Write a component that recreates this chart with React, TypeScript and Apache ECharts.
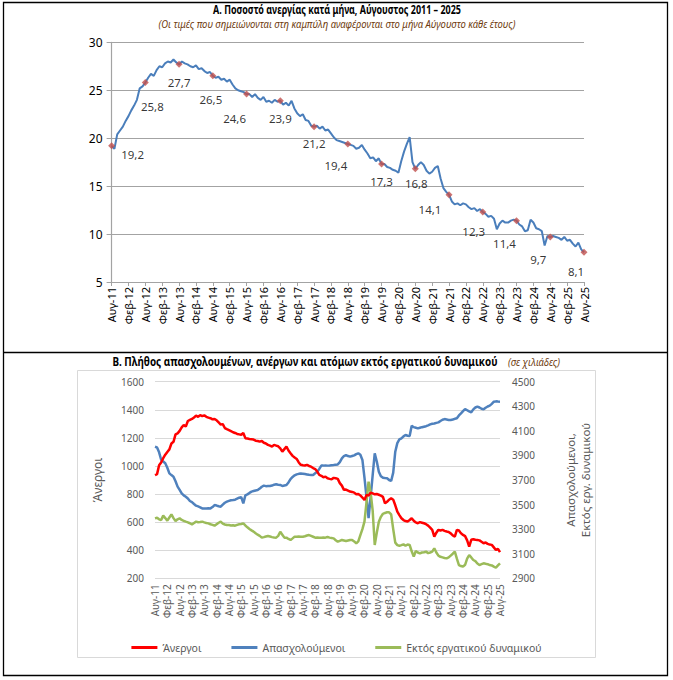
import React, { useEffect, useRef } from "react";
import * as echarts from "echarts";

// ---------- Data ----------
const MONTHS = ["Ιαν", "Φεβ", "Μαρ", "Απρ", "Μαϊ", "Ιουν", "Ιουλ", "Αυγ", "Σεπ", "Οκτ", "Νοε", "Δεκ"];
const START_MONTH = 7; // Αύγουστος (0-based)
const START_YEAR = 11; // 2011

// Α. Ποσοστό ανεργίας (%), Αύγ. 2011 – Αύγ. 2025
const unemploymentRate = [
  19.2, 18.9, 20.4, 20.8, 21.2, 21.8, 22.3, 22.9, 23.4, 24.0, 25.2, 25.4,
  25.8, 26.3, 26.7, 26.5, 27.1, 27.5, 27.4, 27.8, 28.0, 27.9, 28.2, 27.9,
  27.7, 28.0, 27.8, 27.7, 27.5, 27.4, 27.6, 27.2, 27.3, 27.0, 26.8, 26.9,
  26.5, 26.3, 26.4, 26.1, 26.2, 25.9, 26.1, 25.6, 25.2, 25.0, 24.9, 24.8,
  24.6, 24.6, 24.3, 24.6, 24.2, 24.0, 24.3, 23.8, 23.9, 23.7, 24.0, 23.8,
  23.9, 23.5, 23.7, 23.4, 23.9, 23.1, 22.6, 22.3, 22.5, 21.9, 21.8, 21.3,
  21.2, 21.3, 21.0, 21.2, 20.8, 20.9, 20.5, 20.1, 19.8, 19.7, 19.6, 19.5,
  19.4, 19.3, 19.2, 18.9, 19.0, 19.3, 18.8, 18.4, 17.9, 18.0, 17.6, 17.9,
  17.3, 17.3, 17.0, 16.9, 16.7, 16.6, 16.4, 17.6, 18.6, 19.4, 20.1, 17.5,
  16.8, 17.2, 17.5, 17.2, 16.6, 16.3, 16.5, 16.9, 17.1, 15.8, 14.8, 14.4,
  14.1, 13.4, 13.1, 13.2, 13.0, 13.2, 13.1, 12.8, 12.6, 12.7, 12.4, 12.6,
  12.3, 12.1, 11.8, 11.9, 11.6, 10.5, 11.1, 11.4, 11.2, 11.2, 11.4, 11.5,
  11.4, 11.0, 10.8, 10.3, 10.4, 11.5, 11.2, 10.6, 10.5, 10.3, 8.8, 9.8,
  9.7, 9.8, 9.7, 9.6, 9.4, 9.7, 9.3, 9.4, 9.0, 8.7, 9.1, 8.4,
  8.1,
];

// Β. Άνεργοι (χιλιάδες)
const unemployed = [
  935, 942, 1005, 1025, 1055, 1080, 1100, 1118, 1160, 1172, 1225, 1232,
  1250, 1275, 1292, 1280, 1320, 1328, 1335, 1345, 1358, 1350, 1362, 1355,
  1360, 1350, 1344, 1340, 1332, 1335, 1325, 1310, 1295, 1298, 1270, 1262,
  1255, 1248, 1240, 1235, 1228, 1225, 1222, 1235, 1198, 1195, 1192, 1190,
  1188, 1180, 1178, 1173, 1178, 1165, 1160, 1150, 1145, 1138, 1150, 1145,
  1140, 1125, 1102, 1120, 1138, 1110, 1090, 1072, 1060, 1050, 1025, 1008,
  1005, 1003, 1008, 1000, 995, 985, 978, 960, 936, 930, 920, 924,
  912, 908, 905, 915, 912, 908, 878, 860, 830, 832, 825, 818,
  815, 810, 798, 800, 790, 775, 758, 794, 790, 810, 805, 798,
  800, 795, 789, 780, 734, 745, 760, 770, 760, 720, 675, 650,
  628, 615, 608, 604, 615, 628, 610, 598, 592, 600, 596, 592,
  585, 575, 561, 545, 497, 525, 545, 540, 545, 538, 533, 530,
  520, 505, 497, 545, 540, 520, 509, 500, 470, 426, 474, 478,
  474, 472, 470, 460, 450, 455, 445, 440, 438, 420, 402, 410,
  386,
];

// Β. Απασχολούμενοι (χιλιάδες)
const employed = [
  3971, 3965, 3925, 3865, 3850, 3836, 3800, 3754, 3740, 3727, 3690, 3646,
  3620, 3591, 3575, 3564, 3550, 3529, 3520, 3505, 3491, 3485, 3478, 3469,
  3469, 3468, 3470, 3469, 3480, 3496, 3492, 3486, 3483, 3500, 3515, 3524,
  3530, 3535, 3537, 3540, 3548, 3556, 3560, 3510, 3575, 3583, 3595, 3605,
  3610, 3615, 3618, 3630, 3645, 3654, 3650, 3651, 3651, 3655, 3662, 3665,
  3662, 3660, 3651, 3655, 3659, 3680, 3708, 3725, 3738, 3746, 3750, 3752,
  3751, 3748, 3745, 3742, 3741, 3741, 3755, 3768, 3790, 3817, 3817, 3818,
  3817, 3818, 3820, 3822, 3825, 3827, 3845, 3876, 3895, 3903, 3895, 3890,
  3895, 3900, 3910, 3917, 3905, 3863, 3720, 3560, 3390, 3560, 3740, 3917,
  3850, 3768, 3730, 3719, 3716, 3714, 3700, 3692, 3760, 3930, 4000, 4030,
  4039, 4055, 4066, 4060, 4058, 4142, 4130, 4125, 4120, 4125, 4130, 4134,
  4138, 4145, 4153, 4158, 4160, 4165, 4169, 4180, 4190, 4196, 4192, 4188,
  4188, 4192, 4198, 4202, 4225, 4242, 4260, 4278, 4268, 4258, 4251, 4275,
  4290, 4297, 4290, 4280, 4275, 4288, 4298, 4305, 4320, 4337, 4340, 4338,
  4337,
];

// Β. Εκτός εργατικού δυναμικού (χιλιάδες)
const outOfLabourForce = [
  3388, 3393, 3380, 3374, 3410, 3390, 3369, 3395, 3420, 3390, 3366, 3380,
  3388, 3375, 3368, 3361, 3355, 3348, 3339, 3350, 3361, 3356, 3358, 3361,
  3355, 3350, 3347, 3340, 3335, 3328, 3340, 3352, 3361, 3345, 3338, 3334,
  3334, 3330, 3332, 3328, 3335, 3340, 3342, 3347, 3330, 3315, 3301, 3290,
  3280, 3266, 3255, 3245, 3231, 3235, 3240, 3244, 3240, 3235, 3232, 3231,
  3245, 3279, 3255, 3231, 3231, 3220, 3212, 3225, 3239, 3238, 3240, 3239,
  3239, 3242, 3248, 3252, 3245, 3238, 3231, 3232, 3230, 3231, 3232, 3231,
  3236, 3231, 3228, 3225, 3210, 3198, 3205, 3212, 3208, 3204, 3208, 3212,
  3212, 3200, 3184, 3200, 3252, 3300, 3361, 3520, 3686, 3600, 3450, 3171,
  3270, 3361, 3400, 3425, 3432, 3437, 3437, 3420, 3300, 3190, 3170, 3165,
  3170, 3176, 3165, 3175, 3171, 3120, 3076, 3122, 3110, 3103, 3110, 3112,
  3117, 3105, 3110, 3117, 3144, 3110, 3084, 3075, 3070, 3065, 3062, 3070,
  3085, 3100, 3117, 3060, 3008, 3000, 2995, 3010, 3060, 3089, 3070, 3049,
  3040, 3020, 3008, 3015, 3022, 3018, 3015, 3008, 3005, 2995, 2986, 3005,
  3022,
];

// Σημεία Αυγούστου με ετικέτα (δείκτες μηνών)
const augustIdx = [0, 12, 24, 36, 48, 60, 72, 84, 96, 108, 120, 132, 144, 156, 168];
// θέση ετικετών σε σχέση με το σημείο (στυλ)
const labelOffsets = [
  [21, 9], [7, 24], [0, 18], [-2, 24], [-12, 24], [0, 18], [0, 17], [-12, 22],
  [0, 17], [1, 15], [-19, 15], [-9, 19], [-12, 23], [-12, 23], [-8, 19],
];

const categories = unemploymentRate.map((_, i) => {
  const m = (START_MONTH + i) % 12;
  const y = START_YEAR + Math.floor((START_MONTH + i) / 12);
  return `${MONTHS[m]}-${y}`;
});

const LEGEND_NAMES = ["Άνεργοι", "Απασχολούμενοι", "Εκτός εργατικού δυναμικού"];
const TITLE_A = "Α. Ποσοστό ανεργίας κατά μήνα, Αύγουστος 2011 – 2025";
const SUBTITLE_A = "(Οι τιμές που σημειώνονται στη καμπύλη αναφέρονται στο μήνα Αύγουστο κάθε έτους)";
const TITLE_B = "Β. Πλήθος απασχολουμένων, ανέργων και ατόμων εκτός εργατικού δυναμικού";
const SUBTITLE_B = "(σε χιλιάδες)";
const RIGHT_AXIS_NAME = "Απασχολούμενοι,\nΕκτός εργ. δυναμικού";

const SANS = "'Noto Sans', 'DejaVu Sans', sans-serif";

export default function App() {
  const ref = useRef<HTMLDivElement>(null);

  useEffect(() => {
    document.body.style.margin = "0";
    if (!ref.current) return;
    const chart = echarts.init(ref.current, undefined, { renderer: "svg" });

    const gridA = { left: 111.6, top: 42.3, width: 472.4, height: 239.7 };
    const gridB = { left: 155, top: 381.7, width: 345, height: 196.6 };
    const grayA = "#a3a3a3";
    const grayB = "#d9d9d9";
    const textB = "#595959";
    const brown = "#6e3b0e";
    const plain = (v: number) => String(v);

    const option: any = {
      animation: false,
      backgroundColor: "#ffffff",
      textStyle: { fontFamily: SANS },
      grid: [gridA, gridB],
      xAxis: [
        {
          gridIndex: 0,
          type: "category",
          data: categories,
          boundaryGap: false,
          axisLine: { show: true, lineStyle: { color: grayA, width: 1.2 } },
          axisTick: { show: true, interval: 5, length: 4, lineStyle: { color: grayA } },
          axisLabel: { interval: 5, rotate: 90, fontSize: 11, color: "#000", margin: 5, fontFamily: SANS },
          splitLine: { show: false },
        },
        {
          gridIndex: 1,
          type: "category",
          data: categories,
          boundaryGap: false,
          axisLine: { show: false },
          axisTick: { show: false },
          axisLabel: { interval: 5, rotate: 90, fontSize: 10, color: textB, margin: 6, fontFamily: SANS },
          splitLine: { show: false },
        },
      ],
      yAxis: [
        {
          gridIndex: 0,
          type: "value",
          min: 5,
          max: 30,
          interval: 5,
          axisLine: { show: true, lineStyle: { color: grayA, width: 1.2 } },
          axisTick: { show: true, length: 5, lineStyle: { color: grayA } },
          axisLabel: { fontSize: 12, color: "#000", margin: 9, fontFamily: SANS, formatter: plain },
          splitLine: { show: true, lineStyle: { color: grayA, width: 1.2 } },
        },
        {
          gridIndex: 1,
          type: "value",
          min: 200,
          max: 1600,
          interval: 200,
          position: "left",
          axisLine: { show: false },
          axisTick: { show: false },
          axisLabel: { fontSize: 10, color: textB, margin: 11, fontFamily: SANS, formatter: plain },
          splitLine: { show: true, lineStyle: { color: grayB, width: 1 } },
          name: "Άνεργοι",
          nameLocation: "middle",
          nameGap: 52,
          nameRotate: 90,
          nameTextStyle: { fontSize: 12, color: textB, fontFamily: SANS },
        },
        {
          gridIndex: 1,
          type: "value",
          min: 2900,
          max: 4500,
          interval: 200,
          position: "right",
          axisLine: { show: false },
          axisTick: { show: false },
          axisLabel: { fontSize: 10, color: textB, margin: 12, fontFamily: SANS, formatter: plain },
          splitLine: { show: false },
          name: RIGHT_AXIS_NAME,
          nameLocation: "middle",
          nameGap: 63,
          nameRotate: 90,
          nameTextStyle: { fontSize: 11.5, color: textB, fontFamily: SANS, lineHeight: 15 },
        },
      ],
      legend: {
        data: LEGEND_NAMES,
        top: 637,
        left: "center",
        icon: "rect",
        itemWidth: 26,
        itemHeight: 3,
        itemGap: 30,
        textStyle: { fontSize: 10.5, color: textB, fontFamily: SANS },
      },
      series: [
        {
          name: "rate",
          type: "line",
          xAxisIndex: 0,
          yAxisIndex: 0,
          data: unemploymentRate,
          showSymbol: false,
          lineStyle: { color: "#4a7ebb", width: 2 },
          itemStyle: { color: "#4a7ebb" },
          z: 2,
        },
        {
          name: "august",
          type: "scatter",
          xAxisIndex: 0,
          yAxisIndex: 0,
          symbol: "diamond",
          symbolSize: 7,
          itemStyle: { color: "#c0504d" },
          z: 3,
          data: augustIdx.map((idx, k) => ({
            value: [idx, unemploymentRate[idx]],
            label: { offset: labelOffsets[k] },
          })),
          label: {
            show: true,
            position: "inside",
            fontSize: 11.5,
            color: "#000",
            fontFamily: SANS,
            formatter: (p: any) => String(p.value[1]).replace(".", ","),
          },
        },
        {
          name: LEGEND_NAMES[1],
          type: "line",
          xAxisIndex: 1,
          yAxisIndex: 2,
          data: employed,
          showSymbol: false,
          lineStyle: { color: "#4f81bd", width: 2.5 },
          itemStyle: { color: "#4f81bd" },
        },
        {
          name: LEGEND_NAMES[2],
          type: "line",
          xAxisIndex: 1,
          yAxisIndex: 2,
          data: outOfLabourForce,
          showSymbol: false,
          lineStyle: { color: "#9bbb59", width: 2.5 },
          itemStyle: { color: "#9bbb59" },
        },
        {
          name: LEGEND_NAMES[0],
          type: "line",
          xAxisIndex: 1,
          yAxisIndex: 1,
          data: unemployed,
          showSymbol: false,
          lineStyle: { color: "#ff0000", width: 2.5 },
          itemStyle: { color: "#ff0000" },
        },
      ],
      graphic: [
        {
          type: "rect",
          shape: { x: 3.5, y: 2.5, width: 664, height: 673 },
          style: { fill: "none", stroke: "#000", lineWidth: 1.3 },
          silent: true,
        },
        {
          type: "line",
          shape: { x1: 3.5, y1: 352.5, x2: 667.5, y2: 352.5 },
          style: { stroke: "#000", lineWidth: 1.3 },
          silent: true,
        },
        {
          type: "rect",
          shape: { x: 77.5, y: 370.5, width: 518, height: 287 },
          style: { fill: "none", stroke: grayB, lineWidth: 1 },
          silent: true,
          z: -1,
        },
        {
          type: "text",
          x: 337,
          y: 10,
          scaleX: 0.78,
          style: {
            text: TITLE_A,
            fontFamily: SANS,
            fontSize: 11.5,
            fontWeight: "bold",
            fill: "#000",
            align: "center",
            verticalAlign: "middle",
          },
        },
        {
          type: "text",
          x: 337,
          y: 24,
          scaleX: 0.95,
          style: {
            text: SUBTITLE_A,
            fontFamily: SANS,
            fontSize: 10,
            fontStyle: "italic",
            fill: brown,
            align: "center",
            verticalAlign: "middle",
          },
        },
        {
          type: "text",
          x: 305,
          y: 362,
          scaleX: 0.86,
          style: {
            text: TITLE_B,
            fontFamily: SANS,
            fontSize: 11.5,
            fontWeight: "bold",
            fill: "#000",
            align: "center",
            verticalAlign: "middle",
          },
        },
        {
          type: "text",
          x: 508,
          y: 362,
          scaleX: 0.95,
          style: {
            text: SUBTITLE_B,
            fontFamily: SANS,
            fontSize: 10,
            fontStyle: "italic",
            fill: brown,
            align: "left",
            verticalAlign: "middle",
          },
        },
      ],
    };

    chart.setOption(option);
    return () => chart.dispose();
  }, []);

  return <div ref={ref} style={{ width: 673, height: 680 }} />;
}
